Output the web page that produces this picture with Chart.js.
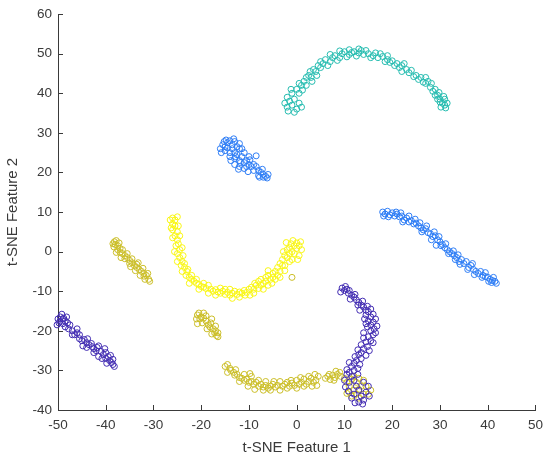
<!DOCTYPE html>
<html>
<head>
<meta charset="utf-8">
<script src="https://cdn.jsdelivr.net/npm/chart.js@4.4.1/dist/chart.umd.min.js"></script>
<style>
  html, body { margin: 0; padding: 0; background: #fff; }
  #wrap { width: 550px; height: 461px; }
</style>
</head>
<body>
<div id="wrap"><canvas id="tsne" width="550" height="461"></canvas></div>
<script>
// axis ticks
const xTicks = [-50, -40, -30, -20, -10, 0, 10, 20, 30, 40, 50];
const yTicks = [-40, -30, -20, -10, 0, 10, 20, 30, 40, 50, 60];

// cluster points, [x, y]
const purpleLeft = [[-50,-17],[-49.5,-16.5],[-49,-17],[-49.8,-18],[-49,-18.2],[-48.5,-17.5],[-48,-18],[-48.5,-19],[-47.8,-19.5],[-47,-20],[-46.5,-21],[-46,-20.5],[-45.5,-22],[-45,-22.5],[-44.5,-22.2],[-44,-23],[-43.5,-23.5],[-43,-23.2],[-42.5,-24.5],[-42,-25],[-41.8,-24.2],[-41,-25.2],[-40.5,-26],[-40,-25.5],[-40,-27],[-39.5,-26.5],[-39.2,-27.5],[-39,-26.2],[-38.8,-28],[-38.5,-28.5],[-41.5,-26.5],[-42.5,-25.5],[-49.6,-17.6],[-48.8,-16.8],
  [-50.2,-18.5],[-49.2,-15.8],[-48.2,-16.5],[-47.5,-18.5],[-47,-21],[-46,-19.5],[-45.5,-21],[-44.8,-23.8],[-43.8,-22],[-42.8,-24],[-41.5,-23.8],[-40.8,-27],[-39.8,-28.2],[-38.5,-27.2],[-40.2,-24.5],[-38.2,-29],[-44,-24.2]];
const purpleCurve = [[9.5,-9.2],[10,-9.8],[10.5,-9.5],[10.8,-10.5],[11.5,-11],[12,-11.5],[12.5,-12.2],[13,-12.8],[13.5,-13.5],[14,-14],[14.5,-14.8],[15,-15.2],[14.5,-16],[15.5,-16.5],[15,-17.5],[16,-17.8],[15.5,-18.5],[16.2,-19.5],[15.5,-20],[14.8,-19],[16,-21],[15,-21.5],[15.5,-22.5],[14.5,-22.8],[14.8,-24],[14,-24.5],[13.5,-25.5],[13,-26],[13.5,-27],[12.5,-27.5],[12,-28.2],[11.5,-29],[12,-30],[11,-30.5],[11.5,-31.5],[10.5,-31],[11,-33],[12,-32.5],[12.5,-34],[13,-35],[14,-33],[14.5,-35.5],[13.5,-36.5],[14,-37.5],[12,-36],[10.8,-35.2],[11.5,-37],[13,-38],[15,-34],
  [9.2,-10.2],[10.2,-8.8],[11,-9.8],[11.2,-12],[12.2,-10.8],[12.8,-13.5],[13.8,-12.5],[13.2,-14.8],[14.8,-13.8],[15.5,-14.5],[16,-15.8],[14.2,-17],[16.5,-17],[14.5,-18.2],[16.8,-18.8],[14,-20.5],[16.5,-20.5],[14,-21.8],[16,-23],[13.5,-23.5],[15.2,-25],[12.8,-24.8],[14.5,-26.2],[12.2,-26.5],[13.2,-28.5],[11,-28],[12.8,-29.5],[10.5,-29.8],[10,-32.5],[12.8,-31],[10.2,-34.2],[13.8,-38.5],[15.2,-36.5],[12.2,-38.2]];

const blueBlob = [[-16,26],[-15.5,27],[-15,26.5],[-14.5,27.5],[-14,28],[-13.5,27],[-13,27.8],[-15,25.5],[-14,25],[-13.5,26],[-13,25],[-12.5,26.5],[-12,26],[-14,24],[-13,23.5],[-12.5,24.5],[-12,23],[-11.5,24],[-11,25],[-11,22.5],[-13,22],[-12,21.5],[-10.5,23],[-10,22],[-10,24],[-11,21],[-9.5,21.5],[-9,22],[-9,20.5],[-8,20.5],[-7.5,20],[-7,19.5],[-6.5,19],[-7,18.8],[-6,19.5],[-8,19.2],
  [-15.8,25],[-14.8,28.2],[-13.2,28.5],[-12,27.3],[-11.5,26],[-12.8,24],[-13.8,23],[-11.8,22.5],[-10.5,21.5],[-9.8,23.2],[-8.5,24.2],[-10.2,20.2],[-8.5,21.5],[-7.2,20.8],[-6.2,18.6],[-7.8,18.8],[-12.2,20.8],[-14.5,26.2],[-15.2,27.8]];
const blueLine = [[18,10],[18.5,9.5],[19,10.2],[19.5,9.3],[20,9.8],[20.5,9],[21,9.5],[21.5,8.8],[22,9],[22.5,8],[23,8.5],[23.5,7.5],[24,7.8],[24.5,7],[25,7.2],[25.5,6.5],[26,6],[26.5,5.5],[27,5.8],[27.5,4.8],[28,4.5],[28.5,3.8],[29,4],[29.2,1.6],[29.5,3],[30,2.5],[30.5,1.8],[31,1],[31.5,0.5],[32,0],[32.5,-0.5],[33,-1],[33.2,-2],[33.5,-1.5],[34,-2.5],[34.5,-2],[35,-3],[36,-4],[36.5,-3.5],[37,-4.5],[37.5,-5],[38,-5.5],[38.5,-5],[39,-6],[39.5,-6.3],[40,-6.5],[40.5,-7],[41,-7.3],[41.5,-7.5],[40.8,-7.8],
  [18.2,9],[19.2,8.8],[20.8,10],[21.8,9.8],[22.2,7.5],[23.5,9],[24.8,8.2],[25.8,7.3],[26.2,5],[27.2,6.5],[28.8,5],[28.2,3],[29.8,3.8],[30.2,1.5],[31.2,2],[31.8,-0.5],[32.8,0.2],[33.8,-0.8],[34.2,-3.2],[35.5,-2.5],[35.8,-4.5],[36.8,-3],[37.2,-5.8],[38.8,-6.5],[39.5,-5.3],[40.2,-7.5],[41.2,-6.5],[41.8,-8]];

const tealArc = [[-2,36.5],[-1.5,38],[-2,39],[-1,37],[-0.5,38.5],[0,36],[0.5,37.5],[-1,40],[0,41],[1,42],[0.5,40],[1.5,43],[2,42],[2.5,44.5],[3,44],[3.5,46],[4,45.5],[4.5,47],[5,46.5],[5.5,47.5],[6,48.5],[7,48],[7.5,49],[8,49.5],[9,49],[9.5,50],[10,50.5],[11,49.8],[11.5,50.3],[12,50.5],[13,50.2],[13.5,50.8],[14,49.8],[15,50],[16,49.5],[16.5,50.2],[17,49],[18,49.3],[19,48.5],[19.5,47.8],[20,48.2],[21,47.5],[21.5,46.5],[22,47],[23,46],[23.5,45.2],[24,45.8],[25,44.5],[25.5,43.5],[26,44],[27,42.5],[27.5,43],[28,41.5],[28.5,40.5],[29,41],[29.5,39.5],[30,38.5],[30.5,37.5],[31,37],[30,37.8],[29.5,38.5],[31,38.5],
  [-1.8,35.5],[-0.5,35.2],[1,36.5],[-2.5,37.5],[-1.2,41],[0.5,42.5],[1.2,40.8],[2,44],[2.8,45.5],[3.2,43],[4.2,44.5],[5,48],[6.5,47],[7,49.8],[8.5,48.3],[9,50.7],[10.5,49.2],[11,51],[12.5,49.4],[13,51.2],[14.5,50.8],[15.5,49],[17.5,50],[18.5,48],[19,49.5],[20.5,47],[22.5,47.5],[22,45.5],[24.5,44.2],[26.5,42.8],[27,44],[28.2,42.5],[29,39.5],[30.8,39.2],[31.5,37.5],[30.2,36.5],[31.2,36.3],[29.8,40.2]];

const yellowArc = [[-26,8.5],[-25.5,8],[-26,7],[-25.5,6.5],[-26,5.5],[-25,5],[-25.5,4],[-25,3],[-24.8,2],[-25.3,1.5],[-24.5,0.5],[-25,-0.5],[-24.5,-1.5],[-24,-2.5],[-24.2,-3.5],[-23.5,-4],[-23,-5],[-23.2,-6],[-22.5,-6.5],[-22,-7],[-21.5,-7.5],[-21,-8],[-20.5,-8.3],[-20,-8.8],[-19.5,-9],[-19,-9.3],[-18,-9.5],[-17.5,-10],[-17,-9.6],[-16.5,-10.2],[-16,-10.5],[-15.5,-10],[-15,-10.8],[-14.5,-10.3],[-14,-11],[-13.5,-10.5],[-13,-10],[-12.5,-10.8],[-12,-10.2],[-11.5,-10.5],[-11,-9.8],[-10.5,-10.3],[-10,-9.5],[-9.5,-9],[-9,-9.5],[-8.8,-8],[-8.5,-8.5],[-8,-7.5],[-7.5,-8.5],[-7.5,-7],[-7,-8],[-6.5,-6.5],[-6.5,-7.5],[-6,-6],[-5.5,-7],[-5,-5.5],[-5,-6.5],[-4.5,-5],[-4,-6],[-4,-4],[-3.5,-3],[-3,-3.5],[-3,-2],[-2.5,-1],[-2.8,0],[-2,0.5],[-2,-1.5],[-1.5,1],[-1.2,2],[-1,0],[-0.5,1.5],[-0.5,-0.5],[0,2.2],[0,0.8],[0.5,1.5],[0.5,-1],
  [-26.5,8],[-25,8.8],[-26.3,6],[-24.8,6.5],[-24.5,4],[-26,3.5],[-24,1],[-25.6,0],[-23.8,-1],[-25,-2.5],[-23.5,-3],[-22.8,-4.5],[-24,-5],[-22,-6],[-22.5,-8],[-21,-7],[-20.5,-9.5],[-19.5,-8],[-18.5,-10.5],[-18.5,-8.5],[-17,-11],[-16,-9.2],[-15,-9.5],[-14,-9.5],[-13.5,-11.8],[-12,-11.5],[-10.8,-11],[-9.8,-11],[-9,-10.5],[-8,-9.3],[-7,-9.5],[-6,-8.5],[-6,-4.8],[-5.2,-8],[-4.5,-7],[-3.5,-5],[-3.5,-6.5],[-2.5,-3.5],[-2.5,-4.8],[-1.5,-2.5],[-1.5,-0.5],[-0.8,2.8],[0.2,-2],[1,0.5],[0.8,2.5],[-2.2,2.3],[-1,-2]];

const oliveUpper = [[-38.2,2.5],[-38,1.8],[-37.8,2.8],[-38.3,1.2],[-37.5,1.5],[-37.5,0.5],[-37,0.8],[-37,-0.2],[-36.5,-0.5],[-36,-1],[-36,-1.8],[-35.5,-1.5],[-35,-2.2],[-35,-3],[-34.5,-2.8],[-34,-3.5],[-33.5,-4],[-33.5,-3.2],[-33,-4.5],[-32.5,-5],[-32,-5.5],[-32,-6.2],[-31.5,-6],[-31,-7],[-30.8,-7.5],
  [-38.5,2],[-37.2,2.2],[-36.5,0.5],[-37.8,-0.2],[-35.5,-0.5],[-36.8,-1.5],[-34.5,-1.8],[-34.8,-3.8],[-33.2,-2.8],[-33.8,-4.8],[-32.2,-4.2],[-32.8,-6],[-31.2,-5.5],[-31.8,-7]];
const oliveShort = [[-20.8,-16],[-20.5,-15.5],[-20,-16.5],[-20.3,-17],[-19.5,-16.8],[-19.8,-18],[-19,-17.5],[-18.5,-18.5],[-18.2,-19],[-18,-18],[-17.5,-19.5],[-17.2,-20.5],[-17,-20],[-16.8,-21.2],[-16.5,-21.5],
  [-21,-17],[-19.5,-15.5],[-20.8,-18.2],[-19,-16.2],[-18.8,-19.5],[-17.8,-17],[-17,-18.8],[-16.5,-20.5],[-17.8,-20.8]];
const oliveBottom = [[-14.5,-28.5],[-14,-29.5],[-13.8,-30],[-13.2,-30.5],[-13,-31.2],[-12.5,-31],[-12,-31.8],[-11.5,-32],[-11,-32.5],[-10.5,-32.2],[-10,-33],[-9.5,-32.8],[-9.5,-31.5],[-9,-33.5],[-8.5,-33],[-8,-34],[-7.5,-33.5],[-7,-34.2],[-6.5,-33.8],[-6,-34.5],[-5.5,-34],[-5,-33.5],[-4.5,-34.2],[-4,-33.8],[-3,-34],[-2.5,-33.5],[-2,-33],[-1.5,-34],[-1,-33.2],[-0.5,-33.8],[0,-32.5],[0.5,-33.5],[1,-33],[1.5,-32.2],[2,-33.5],[2.5,-32.8],[3,-32],[3.5,-33],[4,-32.5],[6,-32],[6.5,-31.5],[7,-32.3],[7.5,-31.2],[8,-31.8],[8.5,-31],[9,-30.5],
  [-15,-29],[-14.5,-30.5],[-12.8,-29.8],[-12,-32.8],[-11,-31],[-10.2,-34],[-9.8,-30.8],[-8.8,-34.8],[-8,-32.5],[-7,-35],[-6.5,-32.8],[-5.5,-35],[-4.8,-32.8],[-3.5,-35],[-3.5,-32.8],[-2,-34.5],[-1.2,-32.5],[0,-34.5],[0.8,-31.8],[1.5,-34],[2.5,-31.5],[3.2,-34],[4.5,-31.5],[4.2,-33.8],[3.8,-31],[6.8,-31],[7.8,-32.5],[8.2,-30.2],[9.2,-31.5]];
const oliveMixed = [[10,-32],[10.5,-33],[11,-34],[11.5,-32.2],[12,-31.5],[12.5,-33],[13,-32],[13.5,-34],[14,-32.5],[13,-34.8],[14.5,-34],[15,-36],[14,-36],[15.5,-35],[12,-35],[11,-35.5],[11.5,-36.5],[10.5,-35.8],[13,-37],[12.5,-36]];
const oliveStray = [[-1,-6.5]];

const toXY = arr => arr.map(p => ({ x: p[0], y: p[1] }));

const groups = [
  { name: 'purple', color: 'rgb(66,44,178)', pts: purpleLeft.concat(purpleCurve) },
  { name: 'blue', color: 'rgb(46,125,245)', pts: blueBlob.concat(blueLine) },
  { name: 'teal', color: 'rgb(38,188,176)', pts: tealArc },
  { name: 'olive', color: 'rgb(203,190,40)', pts: oliveUpper.concat(oliveShort, oliveBottom, oliveMixed, oliveStray) },
  { name: 'yellow', color: 'rgb(249,246,20)', pts: yellowArc }
];

const axisColor = '#3a3a3a';

// MATLAB style ticks pointing into the plot
const inwardTicks = {
  id: 'inwardTicks',
  afterDraw(chart) {
    const { ctx, chartArea, scales } = chart;
    ctx.save();
    ctx.strokeStyle = axisColor;
    ctx.lineWidth = 1;
    ctx.beginPath();
    xTicks.forEach(v => {
      const px = Math.round(scales.x.getPixelForValue(v)) + 0.5;
      ctx.moveTo(px, chartArea.bottom);
      ctx.lineTo(px, chartArea.bottom - 5);
    });
    yTicks.forEach(v => {
      const py = Math.round(scales.y.getPixelForValue(v)) + 0.5;
      ctx.moveTo(chartArea.left, py);
      ctx.lineTo(chartArea.left + 5, py);
    });
    ctx.stroke();
    ctx.restore();
  }
};

new Chart(document.getElementById('tsne'), {
  type: 'scatter',
  data: {
    datasets: groups.map(g => ({
      label: g.name,
      data: toXY(g.pts),
      borderColor: g.color,
      backgroundColor: 'rgba(0,0,0,0)',
      pointRadius: 3,
      pointBorderWidth: 1,
      clip: false
    }))
  },
  options: {
    responsive: false,
    animation: false,
    layout: { padding: { top: 12, right: 12, left: 0, bottom: 0 } },
    plugins: {
      legend: { display: false },
      tooltip: { enabled: false }
    },
    scales: {
      x: {
        type: 'linear',
        min: -50,
        max: 50,
        afterBuildTicks: s => { s.ticks = xTicks.map(v => ({ value: v })); },
        afterFit: s => { s.height = 51; },
        grid: { display: false, drawTicks: false },
        border: { display: true, color: axisColor, width: 1 },
        ticks: { color: '#3a3a3a', padding: 7, font: { family: 'Liberation Sans', size: 13.5 } },
        title: { display: true, text: 't-SNE Feature 1', color: '#3a3a3a', padding: { top: 2 }, font: { family: 'Liberation Sans', size: 15 } }
      },
      y: {
        type: 'linear',
        min: -40,
        max: 60,
        afterBuildTicks: s => { s.ticks = yTicks.map(v => ({ value: v })); },
        afterFit: s => { s.width = 58; },
        grid: { display: false, drawTicks: false },
        border: { display: true, color: axisColor, width: 1 },
        ticks: { color: '#3a3a3a', padding: 6, font: { family: 'Liberation Sans', size: 13.5 } },
        title: { display: true, text: 't-SNE Feature 2', color: '#3a3a3a', padding: { bottom: 2 }, font: { family: 'Liberation Sans', size: 15 } }
      }
    }
  },
  plugins: [inwardTicks]
});
</script>
</body>
</html>
